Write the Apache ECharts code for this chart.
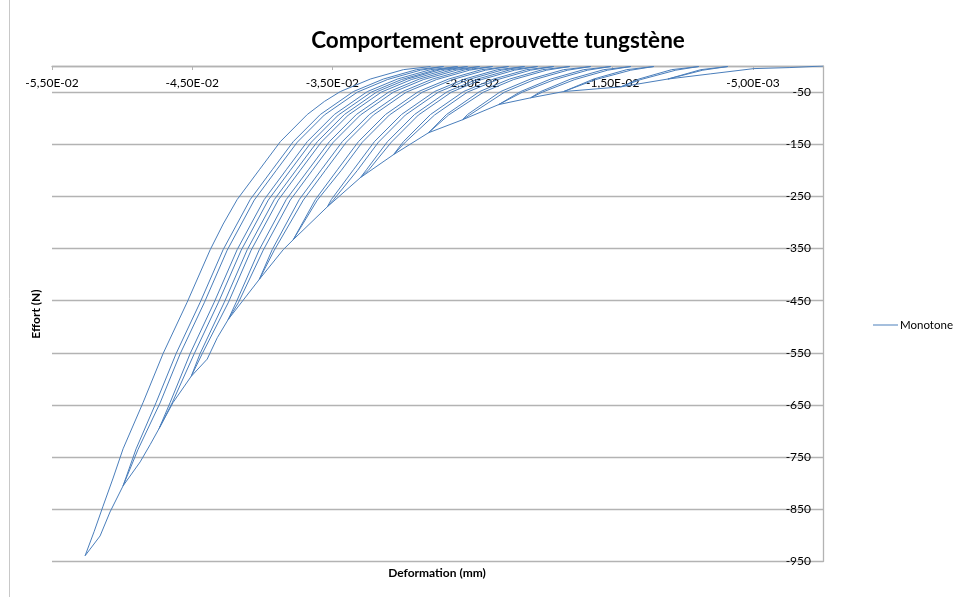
<!DOCTYPE html>
<html>
<head>
<meta charset="utf-8">
<script src="https://cdn.jsdelivr.net/npm/echarts@6/dist/echarts.min.js"></script>
<style>
  html, body { margin: 0; padding: 0; background: #ffffff; }
  #chart { width: 968px; height: 597px; }
</style>
</head>
<body>
<div id="chart"></div>
<script>
// Deformation (mm) / Effort (N) readings of the tungsten specimen.
// Loading path (monotone envelope); each tip starts an unload/reload loop.
const envelope = [
  [0, 0], [-0.00236, -3], [-0.00493, -5], [-0.00800, -15],
  [-0.01107, -25], [-0.01443, -40], [-0.01850, -49], [-0.02086, -61],
  [-0.02314, -74], [-0.02571, -103], [-0.02814, -128], [-0.03064, -170],
  [-0.03300, -214], [-0.03536, -270], [-0.03779, -333], [-0.03850, -352],
  [-0.04021, -409], [-0.04243, -486], [-0.04321, -521], [-0.04393, -562], [-0.04507, -595],
  [-0.04636, -645], [-0.04736, -695], [-0.04800, -726], [-0.04871, -759], [-0.04993, -805],
  [-0.05086, -855], [-0.05157, -901], [-0.05264, -939]
];

const loop01 = [[-0.01107, -25], [-0.00871, -7], [-0.00679, -1], [-0.00857, -8], [-0.01107, -25]];
const loop02 = [[-0.01443, -40], [-0.01314, -25], [-0.01079, -7], [-0.00886, -1], [-0.01050, -8], [-0.01300, -26], [-0.01443, -40]];
const loop03 = [[-0.01850, -49], [-0.01636, -25], [-0.01400, -7], [-0.01207, -1], [-0.01371, -8], [-0.01621, -26], [-0.01850, -49]];
const loop04 = [[-0.02086, -61], [-0.02014, -49], [-0.01800, -25], [-0.01564, -7], [-0.01371, -1], [-0.01536, -8], [-0.01771, -26], [-0.02000, -50], [-0.02086, -61]];
const loop05 = [[-0.02314, -74], [-0.02157, -49], [-0.01943, -25], [-0.01707, -7], [-0.01514, -1], [-0.01679, -8], [-0.01914, -26], [-0.02143, -50], [-0.02314, -74]];
const loop06 = [[-0.02571, -103], [-0.02536, -93], [-0.02300, -49], [-0.02086, -25], [-0.01850, -7], [-0.01657, -1],
  [-0.01821, -8], [-0.02057, -26], [-0.02271, -50], [-0.02521, -94], [-0.02571, -103]];
const loop07 = [[-0.02814, -128], [-0.02686, -93], [-0.02450, -49], [-0.02236, -25], [-0.02000, -7], [-0.01807, -1],
  [-0.01971, -8], [-0.02207, -26], [-0.02421, -50], [-0.02671, -94], [-0.02814, -128]];
const loop08 = [[-0.03064, -170], [-0.02993, -145], [-0.02800, -93], [-0.02564, -49], [-0.02350, -25], [-0.02114, -7], [-0.01921, -1],
  [-0.02086, -8], [-0.02321, -26], [-0.02536, -50], [-0.02771, -94], [-0.02979, -146], [-0.03064, -170]];
const loop09 = [[-0.03300, -214], [-0.03257, -199], [-0.03107, -145], [-0.02914, -93], [-0.02679, -49], [-0.02464, -25], [-0.02229, -7], [-0.02036, -1],
  [-0.02200, -8], [-0.02436, -26], [-0.02650, -50], [-0.02886, -94], [-0.03079, -146], [-0.03243, -200], [-0.03300, -214]];
const loop10 = [[-0.03536, -270], [-0.03507, -256], [-0.03350, -199], [-0.03200, -145], [-0.03007, -93], [-0.02771, -49], [-0.02557, -25], [-0.02321, -7], [-0.02129, -1],
  [-0.02293, -8], [-0.02529, -26], [-0.02743, -50], [-0.02979, -94], [-0.03171, -146], [-0.03321, -200], [-0.03493, -257], [-0.03536, -270]];
const loop11 = [[-0.03779, -333], [-0.03621, -256], [-0.03464, -199], [-0.03314, -145], [-0.03121, -93], [-0.02886, -49], [-0.02671, -25], [-0.02436, -7], [-0.02243, -1],
  [-0.02407, -8], [-0.02643, -26], [-0.02857, -50], [-0.03093, -94], [-0.03286, -146], [-0.03436, -200], [-0.03607, -257], [-0.03779, -333]];
const loop12 = [[-0.04021, -409], [-0.03929, -352], [-0.03736, -256], [-0.03579, -199], [-0.03429, -145], [-0.03236, -93], [-0.03000, -49], [-0.02786, -25], [-0.02550, -7], [-0.02357, -1],
  [-0.02521, -8], [-0.02757, -26], [-0.02971, -50], [-0.03207, -94], [-0.03400, -146], [-0.03550, -200], [-0.03707, -257], [-0.03914, -353], [-0.04021, -409]];
const loop13 = [[-0.04243, -486], [-0.04186, -453], [-0.04021, -352], [-0.03829, -256], [-0.03671, -199], [-0.03521, -145], [-0.03329, -93], [-0.03093, -49], [-0.02879, -25], [-0.02643, -7], [-0.02450, -1],
  [-0.02614, -8], [-0.02850, -26], [-0.03064, -50], [-0.03300, -94], [-0.03493, -146], [-0.03643, -200], [-0.03800, -257], [-0.03993, -353], [-0.04171, -454], [-0.04243, -486]];
const loop14 = [[-0.04507, -595], [-0.04443, -551], [-0.04271, -453], [-0.04107, -352], [-0.03914, -256], [-0.03757, -199], [-0.03607, -145], [-0.03414, -93], [-0.03179, -49], [-0.02964, -25], [-0.02729, -7], [-0.02536, -1],
  [-0.02700, -8], [-0.02936, -26], [-0.03150, -50], [-0.03386, -94], [-0.03579, -146], [-0.03729, -200], [-0.03886, -257], [-0.04079, -353], [-0.04243, -454], [-0.04429, -552], [-0.04507, -595]];
const loop15 = [[-0.04736, -695], [-0.04657, -645], [-0.04514, -551], [-0.04343, -453], [-0.04179, -352], [-0.03986, -256], [-0.03829, -199], [-0.03679, -145], [-0.03486, -93], [-0.03250, -49], [-0.03036, -25], [-0.02800, -7], [-0.02607, -1],
  [-0.02771, -8], [-0.03007, -26], [-0.03221, -50], [-0.03457, -94], [-0.03650, -146], [-0.03800, -200], [-0.03957, -257], [-0.04150, -353], [-0.04314, -454], [-0.04486, -552], [-0.04643, -646], [-0.04736, -695]];
const loop16 = [[-0.04993, -805], [-0.04900, -734], [-0.04757, -645], [-0.04614, -551], [-0.04443, -453], [-0.04279, -352], [-0.04086, -256], [-0.03929, -199], [-0.03779, -145], [-0.03586, -93], [-0.03350, -49], [-0.03136, -25], [-0.02900, -7], [-0.02707, -1],
  [-0.02871, -8], [-0.03107, -26], [-0.03321, -50], [-0.03557, -94], [-0.03750, -146], [-0.03900, -200], [-0.04057, -257], [-0.04250, -353], [-0.04414, -454], [-0.04586, -552], [-0.04729, -646], [-0.04886, -735], [-0.04993, -805]];
// Final unloading from the peak load back to zero effort.
const finalUnload = [[-0.05264, -939], [-0.05200, -893], [-0.05136, -844], [-0.05064, -790], [-0.04993, -734], [-0.04850, -645],
  [-0.04707, -551], [-0.04536, -453], [-0.04371, -352], [-0.04279, -303],
  [-0.04179, -256], [-0.04021, -199], [-0.03871, -145], [-0.03679, -93], [-0.03557, -68], [-0.03443, -49], [-0.03229, -25], [-0.02993, -7], [-0.02800, -1]];

const loops = [loop01, loop02, loop03, loop04, loop05, loop06, loop07, loop08, loop09, loop10,
  loop11, loop12, loop13, loop14, loop15, loop16, finalUnload];

// Axis ticks
const xTicks = [-0.055, -0.045, -0.035, -0.025, -0.015, -0.005];
const yTicks = [-950, -850, -750, -650, -550, -450, -350, -250, -150, -50];

// Walk the envelope, inserting each loop at the tip it starts from.
const path = [];
envelope.forEach(p => {
  path.push(p);
  const loop = loops.find(l => l[0][0] === p[0] && l[0][1] === p[1]);
  if (loop) loop.slice(1).forEach(q => path.push(q));
});

function sciLabel(v) {
  const parts = v.toExponential(2).split('e');
  const e = parseInt(parts[1], 10);
  const exp = (e < 0 ? '-' : '+') + String(Math.abs(e)).padStart(2, '0');
  return parts[0].replace('.', ',') + 'E' + exp;
}

const FONT = 'Lato, "Open Sans", sans-serif';
const GRID_COLOR = '#b3b3b3';

const chart = echarts.init(document.getElementById('chart'), null, { renderer: 'canvas' });
chart.setOption({
  backgroundColor: '#ffffff',
  animation: false,
  title: {
    text: 'Comportement eprouvette tungstène',
    left: 493, top: 24, textAlign: 'center',
    textStyle: { fontFamily: FONT, fontSize: 22.5, fontWeight: 'bold', color: '#000' }
  },
  legend: {
    left: 873, top: 319, padding: 0,
    icon: 'rect', itemWidth: 25, itemHeight: 1, itemGap: 4,
    textStyle: { fontFamily: FONT, fontSize: 11.5, color: '#000', padding: [0, 0, 0, -3] },
    data: ['Monotone']
  },
  grid: { left: 52, right: 145, top: 66, bottom: 35.5, containLabel: false },
  xAxis: {
    type: 'value', position: 'top',
    min: -0.055, max: 0, interval: 0.01,
    axisLine: { onZero: false, lineStyle: { color: GRID_COLOR, width: 1.3 } },
    axisTick: { show: true, inside: true, length: 4, lineStyle: { color: GRID_COLOR },
      customValues: xTicks },
    axisLabel: {
      inside: true, margin: 11,
      customValues: xTicks,
      fontFamily: FONT, fontSize: 12, color: '#000',
      formatter: v => sciLabel(v)
    },
    splitLine: { show: false }
  },
  yAxis: {
    type: 'value', position: 'right',
    min: -950, max: 0, interval: 100,
    axisLine: { onZero: false, lineStyle: { color: GRID_COLOR, width: 1.3 } },
    axisTick: { show: false },
    axisLabel: {
      inside: true, margin: 12,
      customValues: yTicks,
      fontFamily: FONT, fontSize: 12, color: '#000',
      formatter: v => String(v)
    },
    splitLine: { show: true, lineStyle: { color: GRID_COLOR, width: 1.3 } }
  },
  graphic: [
    { type: 'line', shape: { x1: 9.5, y1: 0, x2: 9.5, y2: 597 }, style: { stroke: '#c8c8c8', lineWidth: 1 } },
    { type: 'text', x: 437, y: 573,
      style: { text: 'Deformation (mm)', font: 'bold 12px ' + FONT, fill: '#000', align: 'center', verticalAlign: 'middle' } },
    { type: 'text', x: 36, y: 314, rotation: Math.PI / 2,
      style: { text: 'Effort (N)', font: 'bold 12px ' + FONT, fill: '#000', align: 'center', verticalAlign: 'middle' } }
  ],
  series: [{
    name: 'Monotone', type: 'line', data: path,
    symbol: 'none', smooth: false,
    lineStyle: { color: '#4a7ebb', width: 1 },
    itemStyle: { color: '#4a7ebb' }
  }]
});
</script>
</body>
</html>
